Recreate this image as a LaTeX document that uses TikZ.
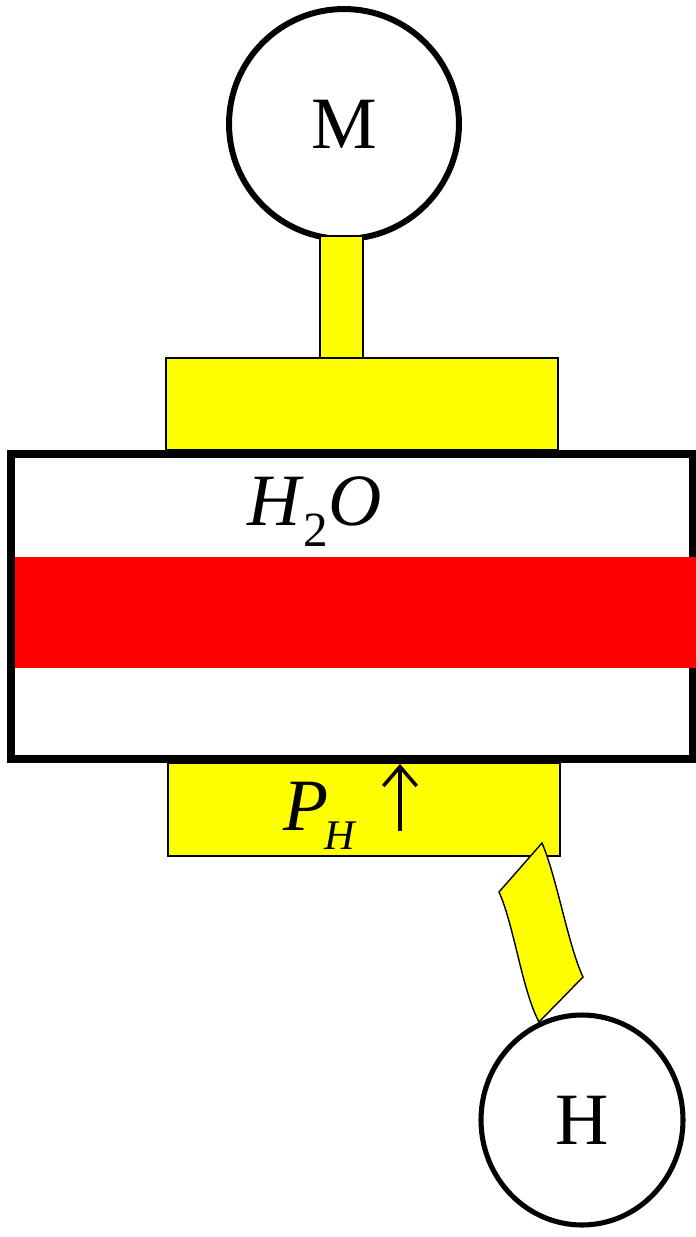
\documentclass[tikz,border=0pt]{standalone}
\usepackage{fontspec}
\setmainfont{Liberation Serif}
\usetikzlibrary{positioning, arrows.meta, shapes.geometric}
\definecolor{amarillo}{RGB}{255,255,0}
\definecolor{rojo}{RGB}{255,0,0}

\begin{document}
\begin{tikzpicture}[x=0.02cm, y=-0.02cm,
  bloque/.style={fill=amarillo, draw=black, line width=0.8pt},
  letra/.style={font=\fontsize{42}{48}\selectfont}]
  \useasboundingbox (0,0) rectangle (696,1237);

  % Motor
  \node[circle, draw, fill=white, line width=3.4pt, minimum size=4.6cm,
        inner sep=0pt, letra] (mot) at (344,124) {M};

  % Eje y bloque superior
  \draw[bloque] (320,236) rectangle (363,358);
  \draw[bloque] (166,358) rectangle (558,450);

  % Bloque inferior
  \draw[bloque] (168,763) rectangle (560,856);

  % Camara
  \draw[line width=4.5pt] (11,454) rectangle (693,759);
  \fill[rojo] (15,557) rectangle (696,668);

  % Etiquetas
  \node[letra, anchor=base west, inner sep=0pt] (agua) at (247,525)
    {\textit{H}\raisebox{-12.5pt}{\fontsize{28}{30}\selectfont 2}\textit{O}};
  \node[letra, anchor=base west, inner sep=0pt] (pres) at (283,830)
    {\textit{P}\kern-2pt\raisebox{-11pt}{\fontsize{24}{26}\selectfont\textit{H}}};
  \draw[line width=2pt, -{Straight Barb[length=11pt, width=19pt]}] (400,831) -- (400,764);

  % Manguera
  \draw[bloque] (542,843) -- (499,892) .. controls (514,925) and (522,990) .. (539,1022)
    -- (583,977) .. controls (568,945) and (557,878) .. (542,843) -- cycle;

  % Calentador
  \node[ellipse, draw, line width=2.9pt, minimum width=4.04cm, minimum height=4.2cm,
        inner sep=0pt, letra] (cal) at (582,1120) {H};
\end{tikzpicture}
\end{document}
